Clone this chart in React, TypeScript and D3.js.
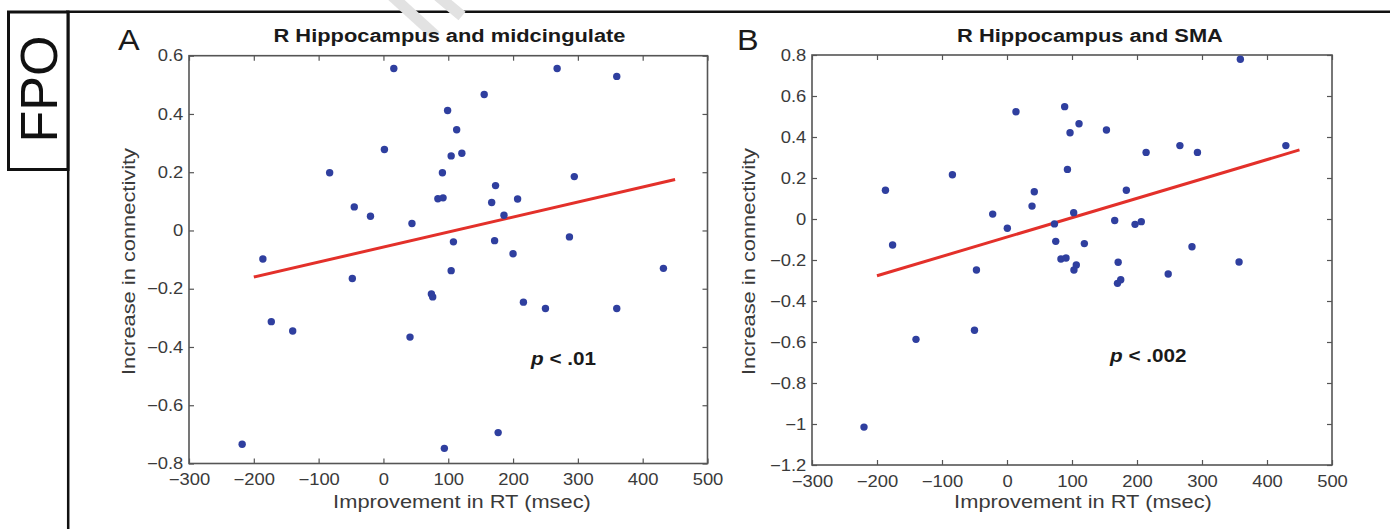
import React, { useEffect, useRef } from "react";
import * as d3 from "d3";

// ---------- data ----------
const xTicks = [-300, -200, -100, 0, 100, 200, 300, 400, 500];
const yTicksA = [-0.8, -0.6, -0.4, -0.2, 0, 0.2, 0.4, 0.6];
const yTicksB = [-1.2, -1, -0.8, -0.6, -0.4, -0.2, 0, 0.2, 0.4, 0.6, 0.8];

const titleA = "R Hippocampus and midcingulate";
const titleB = "R Hippocampus and SMA";
const xLabel = "Improvement in RT (msec)";
const yLabel = "Increase in connectivity";
const pA = " < .01";
const pB = " < .002";

// Panel A: improvement in RT (msec) and increase in connectivity
const rtA = [-218, -186, -173, -140, -83, -45, -48, -20, 1.5, 16, 44, 41, 74, 76, 84, 92, 91, 99, 104.5, 113,
  121, 108, 104.5, 94, 155.5, 167, 173, 171.5, 186, 200, 207, 177, 216, 250, 268, 287, 294.5, 360, 360, 432];
const connA = [-0.734, -0.098, -0.313, -0.345, 0.198, 0.081, -0.165, 0.049, 0.278, 0.556, 0.024, -0.366, -0.218, -0.228, 0.109, 0.112, 0.198, 0.412, 0.256, 0.346,
  0.265, -0.039, -0.138, -0.748, 0.467, 0.096, 0.154, -0.035, 0.052, -0.08, 0.108, -0.694, -0.246, -0.268, 0.556, -0.022, 0.185, 0.529, -0.268, -0.13];

// Panel B
const rtB = [-220, -187, -176, -140, -84, -50, -47, -22, 0.5, 13.8, 42, 38.5, 73, 75, 83, 90.8, 88.7, 93, 97, 102.6,
  106.6, 103, 110.8, 119, 153, 165.7, 171, 175, 170, 183.6, 197, 206.6, 214, 248, 266, 284.6, 293, 357, 359, 429];
const connB = [-1.015, 0.14, -0.127, -0.587, 0.216, -0.543, -0.249, 0.024, -0.045, 0.523, 0.133, 0.063, -0.024, -0.109, -0.195, -0.19, 0.548, 0.242, 0.421, 0.031,
  -0.224, -0.249, 0.465, -0.12, 0.434, -0.007, -0.211, -0.296, -0.314, 0.14, -0.026, -0.013, 0.325, -0.268, 0.358, -0.135, 0.325, -0.21, 0.779, 0.358];

// regression line endpoints
const fitXA = [-200, 450];
const fitYA = [-0.16, 0.175];
const fitXB = [-200, 450];
const fitYB = [-0.277, 0.337];

// ---------- styles ----------
const FONT = "'Liberation Sans', Arial, Helvetica, sans-serif";
const SX = 1.15;
const DOT = "#2f3f9f";
const RED = "#e3302a";
const AXIS = "#555";
const TXT = "#3a3a3a";

type Panel = {
  xs: number[]; ys: number[]; fx: number[]; fy: number[]; yTicks: number[];
  box: { l: number; r: number; t: number; b: number };
  title: string; titleX: number; letter: string; letterX: number;
  xLabX: number; yLabX: number; p: string; pX: number; pY: number;
};

const panels: Panel[] = [
  { xs: rtA, ys: connA, fx: fitXA, fy: fitYA, yTicks: yTicksA,
    box: { l: 189, r: 707.5, t: 55.7, b: 463.5 },
    title: titleA, titleX: 449.5, letter: "A", letterX: 118,
    xLabX: 462, yLabX: 135, p: pA, pX: 531, pY: 365 },
  { xs: rtB, ys: connB, fx: fitXB, fy: fitYB, yTicks: yTicksB,
    box: { l: 812, r: 1332, t: 55, b: 465 },
    title: titleB, titleX: 1090, letter: "B", letterX: 737,
    xLabX: 1083, yLabX: 755, p: pB, pX: 1110, pY: 362 },
];

const fmt = (v: number) => (v < 0 ? "\u2212" + String(+Math.abs(v).toFixed(2)) : String(+v.toFixed(2)));

export default function App() {
  const ref = useRef<SVGSVGElement>(null);

  useEffect(() => {
    const svg = d3.select(ref.current);
    svg.selectAll("*").remove();

    // frame / FPO
    svg.append("line").attr("x1", 66).attr("x2", 1390).attr("y1", 11.8).attr("y2", 11.8)
      .attr("stroke", "#111").attr("stroke-width", 2.5);
    svg.append("line").attr("x1", 68.2).attr("x2", 68.2).attr("y1", 11).attr("y2", 529)
      .attr("stroke", "#111").attr("stroke-width", 2.5);
    svg.append("rect").attr("x", 8.5).attr("y", 12).attr("width", 59.5).attr("height", 157.5)
      .attr("fill", "none").attr("stroke", "#111").attr("stroke-width", 3);
    svg.append("text").attr("transform", "translate(56.5,89) rotate(-90)")
      .attr("text-anchor", "middle").attr("font-family", FONT).attr("font-size", 52)
      .attr("fill", "#111").text("FPO");

    // faint watermark strokes
    const wm = [[392, -4, 436, 36], [438, -4, 462, 16]];
    wm.forEach(([x1, y1, x2, y2]) =>
      svg.append("line").attr("x1", x1).attr("y1", y1).attr("x2", x2).attr("y2", y2)
        .attr("stroke", "#e2e2e2").attr("stroke-width", 11));

    panels.forEach((P) => {
      const { l, r, t, b } = P.box;
      const x = d3.scaleLinear().domain([xTicks[0], xTicks[xTicks.length - 1]]).range([l, r]);
      const y = d3.scaleLinear().domain([P.yTicks[0], P.yTicks[P.yTicks.length - 1]]).range([b, t]);
      const g = svg.append("g");

      const styleAxis = (sel: any) => {
        sel.select(".domain").remove();
        sel.selectAll(".tick line").attr("stroke", AXIS).attr("stroke-width", 1.2);
        sel.selectAll(".tick text").attr("fill", TXT).attr("font-size", 16).attr("font-family", FONT)
          .attr("transform", `scale(${SX},1)`);
      };

      g.append("g").attr("transform", `translate(0,${b})`)
        .call(d3.axisBottom(x).tickValues(xTicks).tickSize(-5).tickPadding(10.5).tickFormat((d: any) => fmt(d)))
        .call(styleAxis);
      g.append("g").attr("transform", `translate(0,${t})`)
        .call(d3.axisTop(x).tickValues(xTicks).tickSize(-5).tickFormat(() => ""))
        .call(styleAxis);
      g.append("g").attr("transform", `translate(${l},0)`)
        .call(d3.axisLeft(y).tickValues(P.yTicks).tickSize(-5).tickPadding(5).tickFormat((d: any) => fmt(d)))
        .call(styleAxis);
      g.append("g").attr("transform", `translate(${r},0)`)
        .call(d3.axisRight(y).tickValues(P.yTicks).tickSize(-5).tickFormat(() => ""))
        .call(styleAxis);

      g.append("rect").attr("x", l).attr("y", t).attr("width", r - l).attr("height", b - t)
        .attr("fill", "none").attr("stroke", AXIS).attr("stroke-width", 1.6);

      // regression line
      const line = d3.line<number>().x((_, i) => x(P.fx[i])).y((_, i) => y(P.fy[i]));
      g.append("path").attr("d", line(P.fx) as string).attr("stroke", RED).attr("stroke-width", 3)
        .attr("fill", "none");

      // dots
      g.selectAll("circle.dot").data(P.xs).enter().append("circle").attr("class", "dot")
        .attr("cx", (d) => x(d)).attr("cy", (_, i) => y(P.ys[i])).attr("r", 3.7).attr("fill", DOT);

      // title
      g.append("text").attr("transform", `translate(${P.titleX},42) scale(${SX},1)`)
        .attr("text-anchor", "middle").attr("font-family", FONT).attr("font-weight", "bold")
        .attr("font-size", 19).attr("fill", "#1a1a1a").text(P.title);
      // panel letter
      g.append("text").attr("transform", `translate(${P.letterX},50) scale(1.08,1)`)
        .attr("font-family", FONT).attr("font-size", 30).attr("fill", "#1a1a1a").text(P.letter);
      // axis labels
      g.append("text").attr("transform", `translate(${P.xLabX},508) scale(${SX},1)`)
        .attr("text-anchor", "middle").attr("font-family", FONT).attr("font-size", 19)
        .attr("fill", TXT).text(xLabel);
      g.append("text").attr("transform", `translate(${P.yLabX},261.5) rotate(-90) scale(${SX},1)`)
        .attr("text-anchor", "middle").attr("font-family", FONT).attr("font-size", 19)
        .attr("fill", TXT).text(yLabel);
      // p value
      const pt = g.append("text").attr("transform", `translate(${P.pX},${P.pY}) scale(${SX},1)`)
        .attr("font-family", FONT).attr("font-size", 18).attr("font-weight", "bold").attr("fill", "#1a1a1a");
      pt.append("tspan").attr("font-style", "italic").text("p");
      pt.append("tspan").text(P.p);
    });
  }, []);

  return (
    <svg ref={ref} width={1390} height={529}
      style={{ position: "absolute", left: 0, top: 0, background: "#fff" }} />
  );
}
